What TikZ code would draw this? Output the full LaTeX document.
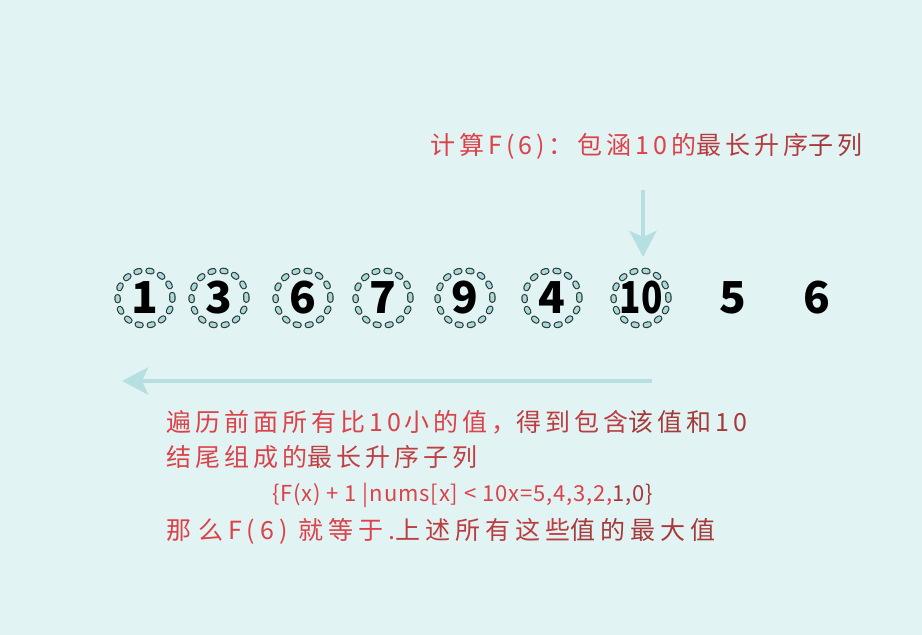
\documentclass[tikz,border=0pt]{standalone}
\usepackage{fontspec}
\usetikzlibrary{arrows.meta}
\newfontfamily\cjk[LetterSpace=16]{Noto Sans CJK SC}
\newfontfamily\cjkwide[LetterSpace=20]{Noto Sans CJK SC}
\newfontfamily\cjkform[LetterSpace=4]{Noto Sans CJK SC}
\newfontfamily\cjkplain{Noto Sans CJK SC}
\definecolor{bgc}{HTML}{E2F3F4}
\definecolor{arr}{HTML}{B6DFE2}
\definecolor{ringout}{HTML}{2E3A3A}
\definecolor{ringin}{HTML}{A9D9DB}
\definecolor{txtred}{HTML}{DC4249}
\definecolor{txtdark}{HTML}{A63A3A}
\tikzset{
  num/.style={font=\cjkplain\bfseries\fontsize{44}{44}\selectfont, text=black, inner sep=0pt},
  ring/.style={num, circle, minimum size=55pt, draw=ringout, line width=1.2pt,
     double=ringin, double distance=4pt, dash pattern=on 3pt off 9.2pt, line cap=round},
  plainnum/.style={num},
  captext/.style={font=\cjk\fontsize{25}{25}\selectfont, text=txtred, inner sep=0pt, anchor=west},
  widetext/.style={captext, font=\cjkwide\fontsize{25}{25}\selectfont},
  formula/.style={font=\cjkform\fontsize{22}{22}\selectfont, text=txtred, inner sep=0pt, anchor=west},
  bigarrow/.style={draw=arr, line width=4.5pt, -{Stealth[length=26pt,width=27pt,inset=6pt]}}
}
\begin{document}
\begin{tikzpicture}[x=1pt,y=-1pt]
\fill[bgc] (0,0) rectangle (922,635);
\useasboundingbox (0,0) rectangle (922,635);

\node[ring] (n1) at (145,298) {\makebox[0pt]{1}};
\node[ring] (n2) at (219,298) {\makebox[0pt]{3}};
\node[ring] (n3) at (303,298) {\makebox[0pt]{6}};
\node[ring] (n4) at (383,298) {\makebox[0pt]{7}};
\node[ring] (n5) at (465,298) {\makebox[0pt]{9}};
\node[ring] (n6) at (552,298) {\makebox[0pt]{4}};
\node[ring] (n7) at (641,298) {\makebox[0pt]{\scalebox{0.8}[1]{10}}};
\node[plainnum] (n8) at (733,298) {5};
\node[plainnum] (n9) at (817,298) {6};

\node[captext] (top) at (430,146) {计算F(6)：包涵10的\textcolor{txtdark!70!txtred}{最长升序}\textcolor{txtdark}{子列}};
\coordinate (dtop) at (643,190);
\coordinate (dbot) at (643,257);
\draw[bigarrow] (dtop) -- (dbot);

\coordinate (lstart) at (652,381);
\coordinate (lend) at (122,381);
\draw[bigarrow] (lstart) -- (lend);

\node[captext] (l1) at (166,422) {遍历前面所有比10小的值，\textcolor{txtdark!60!txtred}{得到包含}\textcolor{txtdark}{该值和10}};
\node[captext] (l2) at (166,457) {结尾组成的\textcolor{txtdark!50!txtred}{最长升序子列}};
\node[formula] (l3) at (272,495) {\{F(x) + 1 |nums[x] < 10x=5,4,3,2,\textcolor{txtdark}{1,0\}}};
\node[widetext] (l4) at (166,531) {那\;么F(6) 就等于.\textcolor{txtdark!60!txtred}{上述所有这些}\textcolor{txtdark}{值的最大值}};
\end{tikzpicture}
\end{document}
